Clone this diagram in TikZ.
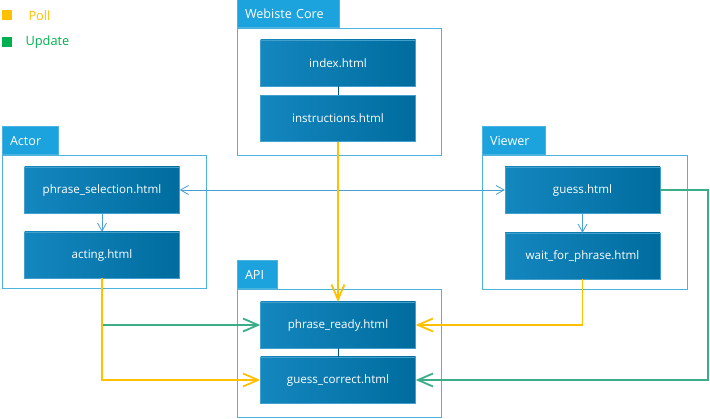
\documentclass[tikz,border=0pt]{standalone}
\usepackage{fontspec}
\setmainfont{Open Sans}
\usetikzlibrary{arrows.meta}
\definecolor{boxdark}{HTML}{006C9E}
\definecolor{boxlight}{HTML}{1487BF}
\definecolor{tabblue}{HTML}{1CA2DC}
\definecolor{frameblue}{HTML}{4CB2DE}
\definecolor{flowblue}{HTML}{4A9ED2}
\definecolor{pollc}{HTML}{FFC000}
\definecolor{updc}{HTML}{3BAE88}
\definecolor{updkey}{HTML}{00B050}
\tikzset{
  page/.style={draw=boxlight!80!white, line width=0.4pt, left color=boxlight, right color=boxdark,
    minimum width=155pt, minimum height=46pt, inner sep=0pt, text=white,
    font=\fontsize{11.6}{13}\selectfont},
  frame/.style={draw=frameblue, line width=1pt, inner sep=0pt},
  tab/.style={draw=frameblue, line width=1pt, fill=tabblue, text=white, anchor=south west,
    minimum height=28pt, inner xsep=8pt, text width=#1, align=left,
    font=\fontsize{12.6}{14}\selectfont},
  flow/.style={draw=flowblue, line width=0.8pt, -{Straight Barb[length=8pt,width=9pt]}},
  poll/.style={draw=pollc, line width=1.8pt, -{Straight Barb[length=15pt,width=13pt]}},
  update/.style={draw=updc, line width=1.8pt, -{Straight Barb[length=15pt,width=13pt]}},
}
\begin{document}
\begin{tikzpicture}[x=1pt,y=-1pt]
\useasboundingbox (0,0) rectangle (710,419);
% legend
\node (pollkey) at (6.5,15) [fill=pollc, minimum size=10pt, inner sep=0pt] {};
\node (pollname) at (25,16) [anchor=west, text=pollc, font=\fontsize{12.8}{14}\selectfont] {Poll};
\node (updkey) at (6.5,42) [fill=updkey, minimum size=10pt, inner sep=0pt] {};
\node (updname) at (22,42) [anchor=west, text=updkey, font=\fontsize{12.8}{14}\selectfont] {Update};
% containers
\node (coreframe) at (339,92.5) [frame, minimum width=204pt, minimum height=127pt] {};
\node (coretab) at (coreframe.north west) [tab=86pt] {Webiste Core};
\node (actorframe) at (104,222.5) [frame, minimum width=204pt, minimum height=133pt] {};
\node (actortab) at (actorframe.north west) [tab=40pt] {Actor};
\node (viewerframe) at (584.5,223) [frame, minimum width=205pt, minimum height=134pt] {};
\node (viewertab) at (viewerframe.north west) [tab=47pt] {Viewer};
\node (apiframe) at (339,354) [frame, minimum width=204pt, minimum height=128pt] {};
\node (apitab) at (apiframe.north west) [tab=24pt] {API};
% pages
\node (index) at (338,63) [page] {index.html};
\node (instructions) at (338,118.5) [page] {instructions.html};
\node (selection) at (102,190) [page] {phrase\_selection.html};
\node (acting) at (102,255) [page] {acting.html};
\node (guess) at (582.5,190) [page] {guess.html};
\node (waiting) at (582.5,256) [page] {wait\_for\_phrase.html};
\node (ready) at (338,325) [page] {phrase\_ready.html};
\node (correct) at (338,380) [page] {guess\_correct.html};
\coordinate (turn) at (708,190);
% links
\draw[draw=boxdark!80!black, line width=0.8pt] (index) -- (instructions);
\draw[draw=boxdark!80!black, line width=0.8pt] (ready) -- (correct);
\draw[flow] (selection) -- (acting);
\draw[flow] (guess) -- (waiting);
\draw[flow, {Straight Barb[length=8pt,width=9pt]}-{Straight Barb[length=8pt,width=9pt]}] (selection) -- (guess);
\draw[poll] (instructions.south) -- (ready.north);
\draw[update] (acting.south) |- (ready.west);
\draw[poll] (acting.south) |- (correct.west);
\draw[poll] (waiting.south) |- (ready.east);
\draw[update] (guess.east) -- (turn) |- (correct.east);
\end{tikzpicture}
\end{document}
